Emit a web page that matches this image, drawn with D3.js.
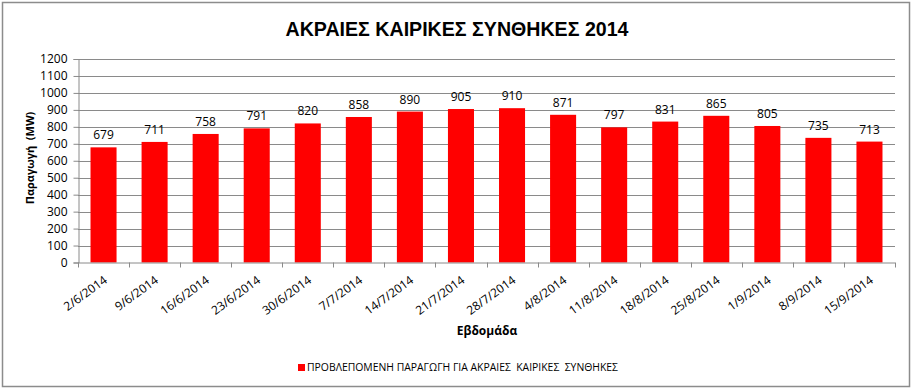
<!DOCTYPE html>
<html><head><meta charset="utf-8">
<script src="https://cdn.jsdelivr.net/npm/d3@7"></script>
<style>body{margin:0;background:#fff}svg{display:block}</style>
</head><body>
<script>
const categories = ["2/6/2014","9/6/2014","16/6/2014","23/6/2014","30/6/2014","7/7/2014","14/7/2014","21/7/2014","28/7/2014","4/8/2014","11/8/2014","18/8/2014","25/8/2014","1/9/2014","8/9/2014","15/9/2014"];
const values = [679,711,758,791,820,858,890,905,910,871,797,831,865,805,735,713];
const yTicks = [0,100,200,300,400,500,600,700,800,900,1000,1100,1200];
const title = "ΑΚΡΑΙΕΣ ΚΑΙΡΙΚΕΣ ΣΥΝΘΗΚΕΣ 2014";
const yTitle = "Παραγωγή  (MW)";
const xTitle = "Εβδομάδα";
const legendLabel = "ΠΡΟΒΛΕΠΟΜΕΝΗ ΠΑΡΑΓΩΓΗ ΓΙΑ ΑΚΡΑΙΕΣ  ΚΑΙΡΙΚΕΣ  ΣΥΝΘΗΚΕΣ";

const W = 914, H = 390;
const font = "'Open Sans', 'Liberation Sans', sans-serif";
const svg = d3.select("body").append("svg").attr("width", W).attr("height", H);

svg.append("rect").attr("x",2.5).attr("y",2.5).attr("width",907).attr("height",384)
  .attr("fill","#fff").attr("stroke","#8c8c8c").attr("stroke-width",1.5);

const pLeft = 78, pRight = 895, pTop = 59, pBottom = 262.5;
const x = d3.scaleBand().domain(categories).range([pLeft, pRight]).paddingInner(0.49).paddingOuter(0.245);
const y = d3.scaleLinear().domain([0,1200]).range([pBottom, pTop]);

// gridlines
svg.append("g").selectAll("line").data(yTicks.filter(d=>d>0)).join("line")
  .attr("x1", pLeft).attr("x2", pRight)
  .attr("y1", d=>Math.round(y(d))+0.5).attr("y2", d=>Math.round(y(d))+0.5)
  .attr("stroke","#8a8a8a").attr("stroke-width",1);

// y axis
const yAxis = svg.append("g").attr("transform",`translate(${pLeft+0.5},0)`)
  .call(d3.axisLeft(y).tickValues(yTicks).tickSize(5).tickPadding(6).tickFormat(d3.format("d")));
yAxis.select(".domain").attr("stroke","#8a8a8a");
yAxis.selectAll(".tick line").attr("stroke","#8a8a8a");
yAxis.selectAll("text").attr("font-family",font).attr("font-size",12).attr("fill","#000");

// bars
svg.append("g").selectAll("rect").data(values).join("rect")
  .attr("x",(d,i)=>x(categories[i])).attr("width",x.bandwidth())
  .attr("y",d=>y(d)).attr("height",d=>y(0)-y(d)).attr("fill","#ff0000");

// data labels
svg.append("g").selectAll("text").data(values).join("text")
  .attr("x",(d,i)=>x(categories[i])+x.bandwidth()/2).attr("y",d=>y(d)-8)
  .attr("text-anchor","middle").attr("font-family",font).attr("font-size",12).attr("fill","#000")
  .text(d=>d);

// x axis
const xa = svg.append("g");
xa.append("line").attr("x1",pLeft).attr("x2",pRight).attr("y1",pBottom+0.5).attr("y2",pBottom+0.5).attr("stroke","#8a8a8a");
xa.selectAll("line.t").data(d3.range(categories.length+1)).join("line").attr("class","t")
  .attr("x1",i=>Math.round(pLeft+i*(pRight-pLeft)/categories.length)+0.5)
  .attr("x2",i=>Math.round(pLeft+i*(pRight-pLeft)/categories.length)+0.5)
  .attr("y1",pBottom).attr("y2",pBottom+5).attr("stroke","#8a8a8a");
xa.selectAll("text").data(categories).join("text")
  .attr("transform",d=>`translate(${x(d)+x.bandwidth()/2+2},${pBottom+16}) rotate(-36)`)
  .attr("text-anchor","end").attr("dy","0.35em")
  .attr("font-family",font).attr("font-size",12).attr("fill","#000").text(d=>d);

// titles
svg.append("text").attr("x",457).attr("y",36).attr("text-anchor","middle")
  .attr("font-family","'Liberation Sans Narrow','Liberation Sans',sans-serif").attr("font-weight","bold")
  .attr("font-size",21).attr("textLength",343).attr("lengthAdjust","spacingAndGlyphs").attr("fill","#000").text(title);
svg.append("text").attr("transform","translate(34,158) rotate(-90)").attr("text-anchor","middle")
  .attr("font-family",font).attr("font-weight","bold").attr("font-size",11).attr("fill","#000")
  .style("white-space","pre").text(yTitle);
svg.append("text").attr("x",487).attr("y",335).attr("text-anchor","middle")
  .attr("font-family",font).attr("font-weight","bold").attr("font-size",12).attr("fill","#000").text(xTitle);

// legend
svg.append("rect").attr("x",298).attr("y",364).attr("width",7).attr("height",7).attr("fill","#ff0000");
svg.append("text").attr("x",307).attr("y",371).attr("font-family",font).attr("font-size",11).attr("fill","#000")
  .style("white-space","pre").attr("textLength",311).attr("lengthAdjust","spacingAndGlyphs").text(legendLabel);
</script>
</body></html>
